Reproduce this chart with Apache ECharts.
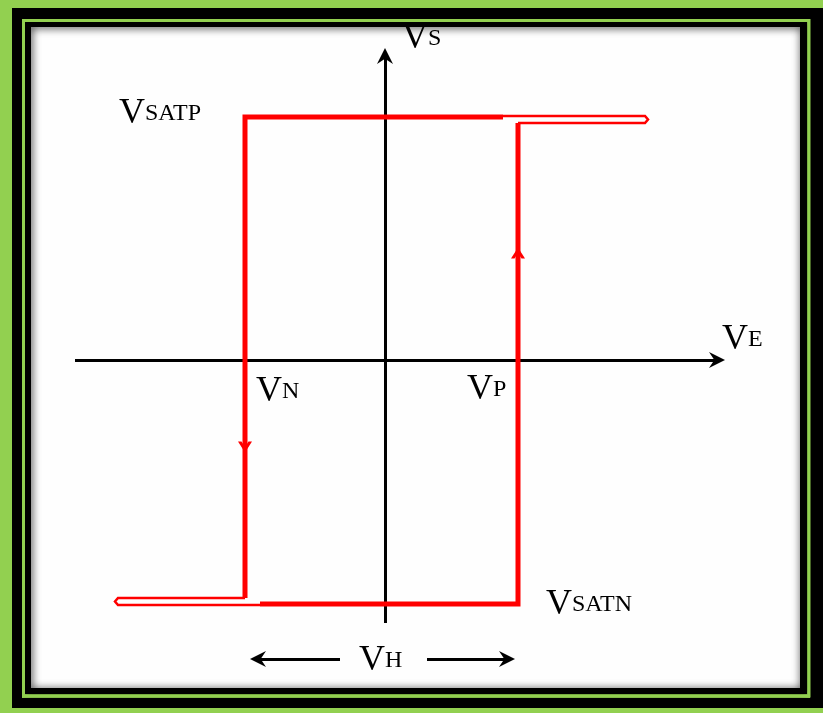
<!DOCTYPE html>
<html>
<head>
    <meta charset="utf-8">
    <title>Hysteresis</title>
    <script src="https://cdn.jsdelivr.net/npm/echarts@6/dist/echarts.min.js"></script>
</head>
<body style="margin:0; background:#92d050;">
    <div id="main" style="width:823px; height:713px;"></div>
    <script type="text/javascript">
    // chart units: VE across, VS up
    var upperBranch = [[11.8, 24.3], [-14, 24.3], [-14, -23.8]];
    var lowerBranch = [[-12.5, -24.4], [13.3, -24.4], [13.3, 23.7]];
    var upperTail = [[11.8, 24.4], [26, 24.4], [26.3, 24.05], [26, 23.7], [13.3, 23.7]];
    var lowerTail = [[-14, -23.8], [-26.7, -23.8], [-27, -24.15], [-26.7, -24.5], [-12.5, -24.5]];
    var axisLines = [[[-31, 0], [33.2, 0]], [[0, -26.3], [0, 30.4]]];
    var vhArrows = [[[-4.5, -29.9], [-12.7, -29.9]], [[4.2, -29.9], [12.2, -29.9]]];
    var flowMarks = [[13.3, 10.7], [-14, -8.7]];
    var flowTurn = [0, 180];
    var labelSubs = ['SATP', 'N', 'P', 'S', 'E', 'SATN', 'H'];
    var labelPos = [[-26.6, 22.8], [-12.9, -5], [8.2, -4.8], [1.7, 30.3], [33.7, 0.2], [16.1, -26.3], [-2.6, -31.9]];

    var arrowHead = 'path://M0,12 L6,0 L12,12 L6,8 Z';
    var chevron = 'path://M0,10 L6,0 L12,10 L9,10 L6,5 L3,10 Z';
    var red = '#ff0000';
    var ink = '#000000';

    var myChart = echarts.init(document.getElementById('main'));
    myChart.setOption({
        backgroundColor: '#92d050',
        animation: false,
        graphic: [
            { type: 'rect', z: 0, shape: { x: 12, y: 8, width: 830, height: 700 }, style: { fill: '#000' } },
            { type: 'rect', z: 0, shape: { x: 22, y: 19, width: 788, height: 679 }, style: { fill: '#92d050' } },
            { type: 'rect', z: 0, shape: { x: 25, y: 22, width: 782, height: 672 }, style: { fill: '#000' } },
            { type: 'rect', z: 0, shape: { x: 31, y: 26, width: 769, height: 663 }, style: { fill: '#fefefe' } },
            { type: 'rect', z: 0, shape: { x: 28, y: 24, width: 775, height: 667 },
              style: { fill: 'none', stroke: '#000', lineWidth: 6, shadowBlur: 8, shadowOffsetX: 1, shadowOffsetY: 1, shadowColor: 'rgba(0,0,0,0.8)' } },
            { type: 'rect', z: 0, shape: { x: 23.5, y: 20.5, width: 785.5, height: 675.5 },
              style: { fill: 'none', stroke: '#92d050', lineWidth: 3 } }
        ],
        grid: { left: 35, top: 30, width: 760, height: 660 },
        xAxis: { type: 'value', min: -35, max: 41, show: false },
        yAxis: { type: 'value', min: -33, max: 33, show: false },
        series: [
            {
                type: 'lines', coordinateSystem: 'cartesian2d', z: 5,
                symbol: ['none', arrowHead], symbolSize: 16,
                lineStyle: { color: '#000', width: 3, opacity: 1 },
                data: axisLines.concat(vhArrows).map(function (c) { return { coords: c }; })
            },
            {
                type: 'line', z: 6, symbol: 'none', data: upperTail,
                lineStyle: { color: red, width: 2.5, join: 'miter' }
            },
            {
                type: 'line', z: 6, symbol: 'none', data: lowerTail,
                lineStyle: { color: red, width: 2.5, join: 'miter' }
            },
            {
                type: 'line', z: 7, symbol: 'none', data: upperBranch,
                lineStyle: { color: red, width: 5, join: 'miter' }
            },
            {
                type: 'line', z: 7, symbol: 'none', data: lowerBranch,
                lineStyle: { color: red, width: 5, join: 'miter' }
            },
            {
                type: 'scatter', z: 8, symbol: chevron, symbolSize: [14, 11],
                itemStyle: { color: red, opacity: 1 },
                data: flowMarks.map(function (p, i) {
                    return { value: p, symbolRotate: flowTurn[i] };
                })
            },
            {
                type: 'scatter', z: 9, symbolSize: 0,
                itemStyle: { opacity: 1 },
                data: labelPos,
                label: {
                    show: true,
                    position: [0, 0],
                    align: 'left',
                    verticalAlign: 'bottom',
                    color: ink,
                    opacity: 1,
                    textBorderWidth: 0,
                    formatter: function (p) {
                        return '{v|V}{s|' + labelSubs[p.dataIndex] + '}';
                    },
                    rich: {
                        v: { fontFamily: 'Liberation Serif', fontSize: 36, color: ink, textBorderWidth: 0 },
                        s: { fontFamily: 'Liberation Serif', fontSize: 24, color: ink, textBorderWidth: 0 }
                    }
                }
            }
        ]
    });
    </script>
</body>
</html>
